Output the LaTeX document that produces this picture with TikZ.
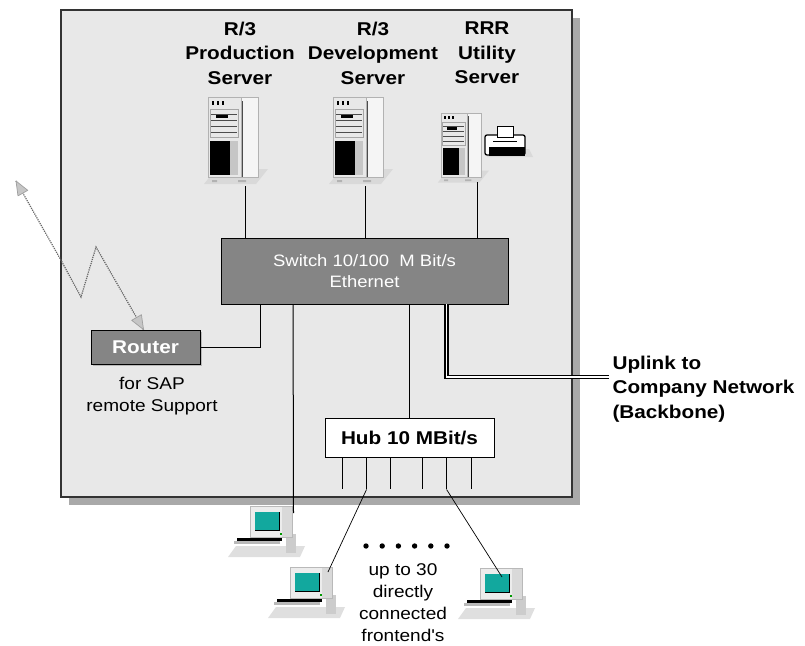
\documentclass[tikz,border=0pt]{standalone}
\usepackage{fontspec}
\setmainfont{Liberation Sans}
\newfontfamily\netfont[FakeStretch=1.12]{Liberation Sans}
\usetikzlibrary{positioning}
\usetikzlibrary{calc}
\usetikzlibrary{shadows}

\definecolor{roomgray}{HTML}{E8E8E8}
\definecolor{roomshadow}{HTML}{A9A9A9}
\definecolor{framegray}{HTML}{333333}
\definecolor{devgray}{HTML}{858585}
\definecolor{screenteal}{HTML}{12A89E}

\tikzset{
  wire/.style={black,line width=1pt},
  thinwire/.style={black,line width=0.7pt},
  uplink/.style={black,line width=1.7pt,double=white,double distance=1.1pt},
  wan/.style={black!60,densely dotted,line width=1.2pt},
  wantip/.style={fill=gray!45,draw=gray!75,line width=0.7pt,line join=round},
  netbox/.style={draw=black,fill=devgray,text=white,line width=0.9pt,align=center},
  title/.style={font={\netfont\bfseries\fontsize{18.5}{24.5}\selectfont},align=center},
  note/.style={font={\netfont\fontsize{17}{22}\selectfont},align=center},
}

% server tower, top left at #1,#2, scaled by #3
\newcommand\tower[3]{%
\begin{scope}[shift={(#1,#2)},scale=#3]
  \fill[gray!30] (-4,87)--(48,87)--(60,72)--(8,72)--cycle;
  \filldraw[fill=gray!18,draw=gray!60,line width=0.5pt] (0,0) rectangle (33,80);
  \filldraw[fill=gray!8,draw=gray!60,line width=0.5pt] (33,0) rectangle (50,80);
  \draw[black!70,line width=0.9pt] (34,4)--(34,80);
  \foreach \k in {0,1,2} \fill[black] (4+\k*5,4) rectangle (6+\k*5,8);
  \draw[gray!70,line width=0.5pt] (2,12) rectangle (30,40);
  \foreach \h in {17,23,29,35} \draw[black!70,line width=0.6pt] (3,\h)--(29,\h);
  \fill[black] (8,18) rectangle (20,21);
  \fill[black] (2,44) rectangle (22,78);
  \fill[gray!45] (22,44) rectangle (30,78);
  \fill[gray!60] (4,83) rectangle (9,85) (30,83) rectangle (38,85);
\end{scope}}

% desktop pc, top left of the monitor at #1,#2
\newcommand\desktop[2]{%
\begin{scope}[shift={(#1,#2)}]
  \fill[gray!25] (-22,51)--(50,51)--(55,40)--(-14,40)--cycle;
  \fill[gray!40] (36,28) rectangle (46,47);
  \fill[black] (-13,32) rectangle (32,35);
  \fill[gray!55] (-16,35) rectangle (30,38);
  \filldraw[fill=gray!15,draw=gray!55,line width=0.5pt] (0,0) rectangle (42,31);
  \fill[gray!30] (32,1) rectangle (41.5,30.5);
  \fill[screenteal] (5,6) rectangle (29,24);
  \draw[black,line width=1.2pt] (29.5,6)--(29.5,24.5)--(5,24.5);
  \fill[green!60!black] (30,27) rectangle (32,29);
\end{scope}}

% printer beside the utility server
\newcommand\printer[2]{%
\begin{scope}[shift={(#1,#2)}]
  \fill[gray!30] (4,32)--(50,32)--(46,24)--(4,24)--cycle;
  \filldraw[fill=white,draw=black,line width=1.3pt,rounded corners=2pt] (2,10) rectangle (42,30);
  \filldraw[fill=white,draw=black,line width=1pt] (14,1) rectangle (30,12);
  \fill[black] (6,22) rectangle (42,31);
  \draw[black,line width=1pt] (10,16)--(34,16);
\end{scope}}

\begin{document}
\begin{tikzpicture}[x=1pt,y=-1pt]
\useasboundingbox (0,0) rectangle (805,645);

% room with shadow
\fill[roomshadow] (69,18) rectangle (580,505);
\filldraw[fill=roomgray,draw=framegray,line width=1.6pt] (61,10) rectangle (572,497);

% servers
\node[title] (prodlbl) at (240,53) {R/3\\Production\\Server};
\node[title] (devlbl) at (373,53) {R/3\\Development\\Server};
\node[title] (utillbl) at (487,53) {RRR\\Utility\\Server};
\tower{208}{97}{1}
\tower{333}{97}{1}
\tower{441}{113}{0.8}
\printer{483}{125}
\coordinate (prod) at (245,186);
\coordinate (dev) at (365,186);
\coordinate (util) at (477,182);

% switch
\node[netbox,font={\netfont\fontsize{16.5}{21}\selectfont},minimum width=287pt,minimum height=66pt] (sw) at (364.5,271) {Switch 10/100\ \ M Bit/s\\Ethernet};
\foreach \s in {prod,dev,util}
  \draw[wire] (\s)--(\s |- sw.north);

% router
\node[netbox,font={\netfont\bfseries\fontsize{18.5}{22}\selectfont},minimum width=109pt,minimum height=34pt,
  drop shadow={shadow xshift=2pt,shadow yshift=-2pt,fill=gray!55,opacity=1}] (rt) at (145.5,347) {Router};
\node[note] (rtnote) at (152,396) {for SAP\\remote Support};
\draw[wire] ([xshift=40pt]sw.south west) |- (rt.east);

% dial-in line with a tip at each end
\coordinate (remote) at (16,181);
\coordinate (rtin) at ([xshift=-2pt]rt.north);
\draw[wan] (remote)--(62,262)--(81,297)--(96,247)--(rtin);
\filldraw[wantip] (remote)--($(remote)!15pt!22:(62,262)$)--($(remote)!15pt!-22:(62,262)$)--cycle;
\filldraw[wantip] (rtin)--($(rtin)!15pt!22:(96,247)$)--($(rtin)!15pt!-22:(96,247)$)--cycle;

% hub
\node[draw,fill=white,line width=0.9pt,font={\netfont\bfseries\fontsize{18.5}{22}\selectfont},
  minimum width=169pt,minimum height=39pt] (hub) at (409.5,437.5) {Hub 10 MBit/s};
\draw[wire] (hub.north |- sw.south)--(hub.north);
\foreach \dx [count=\i] in {18,42,66,98,122,147}
  \draw[wire] ([xshift=\dx pt]hub.south west)--++(0,32) coordinate (st\i);

% uplink
\node[title,align=left,anchor=west] (upl) at (609,389) {Uplink to\\Company Network\\(Backbone)};
\draw[uplink] ([xshift=226pt]sw.south west) |- ([yshift=12pt]upl.west);

% frontends
\desktop{250}{506}
\desktop{290}{567}
\desktop{480}{568}
\coordinate (pc1) at (293.5,513);
\coordinate (pc2) at (328,572);
\coordinate (pc3) at (502,577);
\draw[wire] ([xshift=72.5pt]sw.south west)--(pc1);
\draw[thinwire] (st2)--(pc2);
\draw[thinwire] (st5)--(pc3);
\foreach \i in {0,...,5}
  \fill (366+\i*16.2,546) circle (2.7pt);
\node[note] (fenote) at (403,603) {up to 30\\directly\\connected\\frontend's};
\end{tikzpicture}
\end{document}
